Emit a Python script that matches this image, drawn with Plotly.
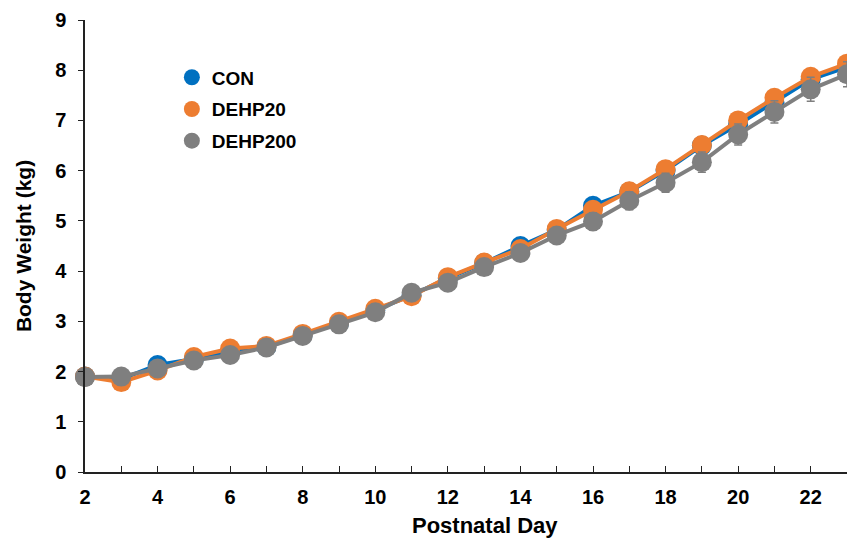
import plotly.graph_objects as go

days = list(range(2, 24))
con = [1.90, 1.85, 2.13, 2.25, 2.40, 2.49, 2.73, 2.96, 3.22, 3.52, 3.86, 4.16, 4.50, 4.82, 5.30, 5.58, 6.00, 6.50, 6.92, 7.36, 7.82, 8.06]
dehp20 = [1.90, 1.79, 2.02, 2.29, 2.46, 2.51, 2.75, 2.99, 3.25, 3.50, 3.88, 4.17, 4.44, 4.84, 5.22, 5.59, 6.03, 6.51, 7.00, 7.45, 7.87, 8.13]
dehp200 = [1.89, 1.90, 2.06, 2.22, 2.33, 2.48, 2.71, 2.94, 3.18, 3.57, 3.77, 4.08, 4.36, 4.71, 4.99, 5.40, 5.76, 6.17, 6.72, 7.17, 7.62, 7.92]
err_con = [0.05, 0.06, 0.06, 0.07, 0.07, 0.08, 0.08, 0.09, 0.09, 0.10, 0.10, 0.11, 0.11, 0.12, 0.12, 0.13, 0.13, 0.14, 0.14, 0.15, 0.15, 0.16]
err_20 = [0.05, 0.06, 0.06, 0.07, 0.07, 0.08, 0.08, 0.09, 0.09, 0.10, 0.10, 0.11, 0.11, 0.12, 0.12, 0.13, 0.13, 0.14, 0.14, 0.15, 0.15, 0.16]
err_200 = [0.06, 0.07, 0.08, 0.08, 0.09, 0.10, 0.10, 0.11, 0.12, 0.12, 0.13, 0.14, 0.15, 0.16, 0.17, 0.18, 0.19, 0.20, 0.21, 0.22, 0.24, 0.25]

names = ["CON", "DEHP20", "DEHP200"]
colors = ["#0070C0", "#ED7D31", "#7F7F7F"]
series = [con, dehp20, dehp200]
errs = [err_con, err_20, err_200]
x_title = "Postnatal Day"
y_title = "Body Weight (kg)"

FONT = "Arial, Liberation Sans, sans-serif"
fig = go.Figure()
for name, col, ys, er in zip(names, colors, series, errs):
    fig.add_trace(go.Scatter(
        x=days, y=ys, mode="lines+markers", name=name, showlegend=False,
        line=dict(color=col, width=4),
        marker=dict(color=col, size=20, symbol="circle"),
        error_y=dict(type="data", array=er, color=col, thickness=1.5, width=4),
        cliponaxis=False,
    ))
for i, (name, col) in enumerate(zip(names, colors)):
    fig.add_trace(go.Scatter(
        x=[None], y=[None], mode="markers", name=name, legendgroup=name,
        marker=dict(color=col, size=22, symbol="circle"),
    ))

fig.update_layout(
    width=847, height=538,
    margin=dict(l=85, r=0, t=20, b=66),
    paper_bgcolor="white", plot_bgcolor="white",
    font=dict(family=FONT, color="black"),
    legend=dict(x=0.114, y=0.915, xanchor="left", yanchor="top",
                font=dict(family=FONT, size=19, color="black", weight="bold"),
                bgcolor="rgba(0,0,0,0)", tracegroupgap=4, itemsizing="trace"),
    xaxis=dict(
        range=[2, 23], tickvals=list(range(2, 24, 2)),
        ticks="inside", ticklen=6, tickwidth=1.3, tickcolor="#222",
        minor=dict(ticks="inside", dtick=1, tick0=2, ticklen=6, tickwidth=1.3, tickcolor="#222"),
        showline=True, linecolor="#222", linewidth=1.5, showgrid=False, zeroline=False,
        tickfont=dict(family=FONT, size=20, color="black", weight="bold"),
        ticklabelstandoff=6,
    ),
    yaxis=dict(
        range=[0, 9], dtick=1, tick0=0,
        ticks="outside", ticklen=5, tickwidth=1.3, tickcolor="#222",
        showline=True, linecolor="#222", linewidth=1.5, showgrid=False, zeroline=False,
        tickfont=dict(family=FONT, size=20, color="black", weight="bold"),
        ticklabelstandoff=8,
        title=dict(text=y_title, font=dict(family=FONT, size=21, color="black", weight="bold"), standoff=18),
    ),
    annotations=[dict(
        text=x_title, xref="paper", yref="paper", x=0.525, y=0, yshift=-53,
        xanchor="center", yanchor="middle", showarrow=False,
        font=dict(family=FONT, size=22, color="black", weight="bold"),
    )],
)
fig.write_html("out.html")
